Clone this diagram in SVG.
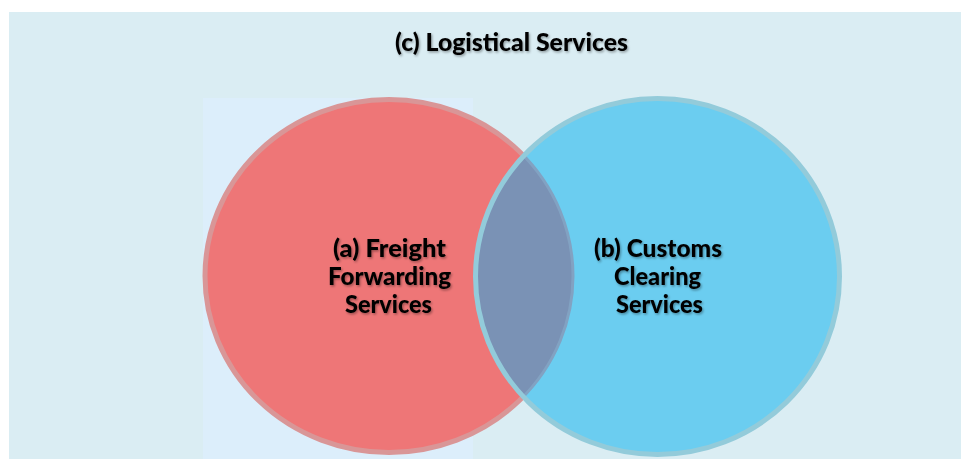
<svg xmlns="http://www.w3.org/2000/svg" width="961" height="459" viewBox="0 0 961 459">
  <style>
    .lbl { font-family: Lato, "Open Sans", "Liberation Sans", sans-serif; font-weight: 900; font-size: 24px; fill: #000; text-anchor: middle; }
    .ttl { font-size: 25px; }
  </style>
  <defs>
    <filter id="shadow" x="-10%" y="-30%" width="120%" height="160%">
      <feDropShadow dx="1.2" dy="1.5" stdDeviation="0.9" flood-color="#000" flood-opacity="0.35"/>
    </filter>
    <clipPath id="blueClip">
      <ellipse cx="657.5" cy="276.5" rx="182" ry="178"/>
    </clipPath>
  </defs>
  <rect x="0" y="0" width="961" height="459" fill="#ffffff"/>
  <rect x="9" y="12" width="952" height="447" fill="#DAEDF3"/>
  <rect x="203" y="98" width="270" height="361" fill="#DCEEFB"/>

  <g id="title">
    <text class="lbl ttl" x="511.5" y="51" textLength="233" lengthAdjust="spacingAndGlyphs" filter="url(#shadow)">(c) Logistical Services</text>
  </g>

  <g id="node-freight">
    <ellipse cx="389" cy="276" rx="184" ry="176.5" fill="#EE7677" stroke="#D99697" stroke-width="5"/>
  </g>
  <g id="node-customs">
    <ellipse cx="657.5" cy="276.5" rx="182" ry="178" fill="#6BCDF0"/>
  </g>
  <g id="overlap">
    <ellipse cx="389" cy="276" rx="184" ry="176.5" fill="#7A92B5" stroke="#82A2C2" stroke-width="3" clip-path="url(#blueClip)"/>
    <ellipse cx="657.5" cy="276.5" rx="182" ry="178" fill="none" stroke="#93CBDA" stroke-width="5"/>
  </g>

  <g id="label-freight" filter="url(#shadow)">
    <text class="lbl" x="389.5" y="257" textLength="113" lengthAdjust="spacingAndGlyphs">(a) Freight</text>
    <text class="lbl" x="389.5" y="285" textLength="123" lengthAdjust="spacingAndGlyphs">Forwarding</text>
    <text class="lbl" x="388.5" y="313" textLength="87" lengthAdjust="spacingAndGlyphs">Services</text>
  </g>
  <g id="label-customs" filter="url(#shadow)">
    <text class="lbl" x="658" y="257" textLength="128" lengthAdjust="spacingAndGlyphs">(b) Customs</text>
    <text class="lbl" x="657.5" y="285" textLength="87" lengthAdjust="spacingAndGlyphs">Clearing</text>
    <text class="lbl" x="659.5" y="313" textLength="87" lengthAdjust="spacingAndGlyphs">Services</text>
  </g>
</svg>
